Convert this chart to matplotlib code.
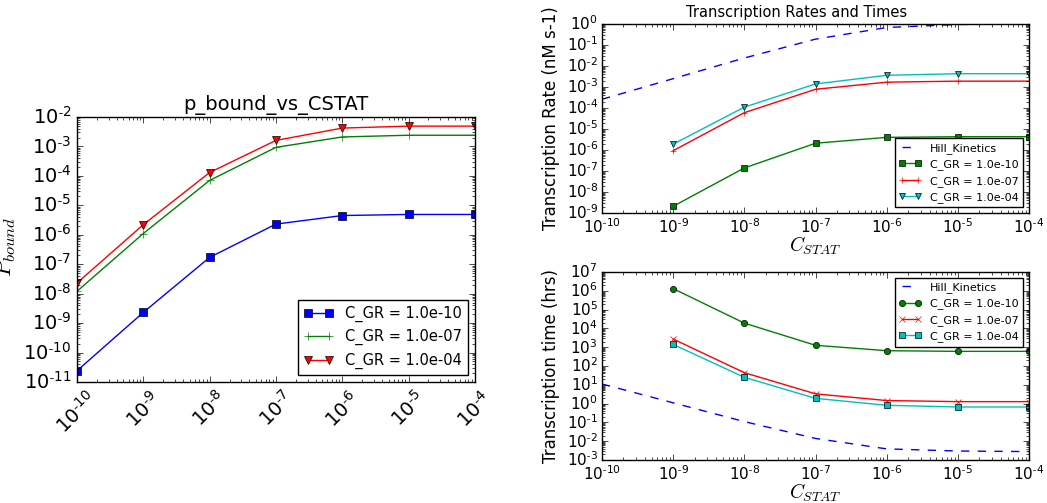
import numpy as np
import matplotlib
matplotlib.use("Agg")
import matplotlib.pyplot as plt
from matplotlib.ticker import FuncFormatter

plt.style.use('classic')
plt.rcParams['figure.facecolor'] = 'white'
plt.rcParams['savefig.facecolor'] = 'white'
plt.rcParams['axes.unicode_minus'] = False

# concentrations of STAT
c_stat = [1e-10, 1e-9, 1e-8, 1e-7, 1e-6, 1e-5, 1e-4]
c_stat_gr = [1e-9, 1e-8, 1e-7, 1e-6, 1e-5, 1e-4]
gr_labels = ['C_GR = 1.0e-10', 'C_GR = 1.0e-07', 'C_GR = 1.0e-04']

# p_bound for each C_GR
p_bound_gr10 = [2.4e-11, 2.3e-9, 1.7e-7, 2.3e-6, 4.5e-6, 4.9e-6, 4.9e-6]
p_bound_gr07 = [1.2e-8, 1.1e-6, 7.0e-5, 9.3e-4, 2.1e-3, 2.4e-3, 2.4e-3]
p_bound_gr04 = [2.3e-8, 2.2e-6, 1.3e-4, 1.6e-3, 4.2e-3, 4.9e-3, 4.9e-3]

# Hill kinetics reference
hill_rate = [2.6e-4, 2.5e-3, 2.4e-2, 0.19, 0.68, 0.95, 0.995]
hill_time = [11.0, 1.1, 0.11, 0.014, 0.0039, 0.003, 0.0028]

# transcription rates (nM s-1)
rate_gr10 = [2.1e-9, 1.4e-7, 2.1e-6, 4.0e-6, 4.3e-6, 4.3e-6]
rate_gr07 = [9.3e-7, 6.0e-5, 7.8e-4, 1.7e-3, 1.9e-3, 1.9e-3]
rate_gr04 = [1.9e-6, 1.1e-4, 1.4e-3, 3.6e-3, 4.3e-3, 4.3e-3]

# transcription times (hrs)
time_gr10 = [1.3e6, 1.9e4, 1.26e3, 650, 600, 600]
time_gr07 = [2.7e3, 44, 3.3, 1.45, 1.27, 1.27]
time_gr04 = [1.4e3, 25, 1.9, 0.81, 0.66, 0.66]


def pow10(v, pos):
    # подписи вида 10^-5 с обычным дефисом
    e = int(round(np.log10(v)))
    if e < 0:
        return r'$\mathdefault{10^{\text{-}%d}}$' % (-e)
    return r'$\mathdefault{10^{%d}}$' % e


fig = plt.figure(figsize=(10.47, 5.03), dpi=100)

# --- левый график ---
ax1 = fig.add_axes([0.0735, 0.2406, 0.380, 0.5268])
ax1.loglog(c_stat, p_bound_gr10, 'bs-', markersize=5.5, label=gr_labels[0])
ax1.loglog(c_stat, p_bound_gr07, 'g+-', markersize=6, label=gr_labels[1])
ax1.loglog(c_stat, p_bound_gr04, 'rv-', markersize=6, label=gr_labels[2])
ax1.set_xlim(1e-10, 1e-4)
ax1.set_ylim(1e-11, 1e-2)
ax1.set_title('p_bound_vs_CSTAT', fontsize=14)
ax1.set_ylabel(r'$P_{bound}$', fontsize=17)
ax1.yaxis.set_label_coords(-0.148, 0.51)
ax1.tick_params(labelsize=14)
ax1.legend(loc='lower right', fontsize=10.5, numpoints=2)

# --- скорости транскрипции ---
ax2 = fig.add_axes([0.575, 0.5765, 0.4078, 0.3758])
ax2.loglog(c_stat, hill_rate, 'b--', label='Hill_Kinetics')
ax2.loglog(c_stat_gr, rate_gr10, 'gs-', markersize=4.5, label=gr_labels[0])
ax2.loglog(c_stat_gr, rate_gr07, 'r+-', markersize=5, label=gr_labels[1])
ax2.loglog(c_stat_gr, rate_gr04, 'cv-', markersize=5, label=gr_labels[2])
ax2.set_xlim(1e-10, 1e-4)
ax2.set_ylim(1e-9, 1e0)
ax2.set_ylabel('Transcription Rate (nM s-1)', fontsize=12)
ax2.set_xlabel(r'$C_{STAT}$', fontsize=14, labelpad=-1)
ax2.tick_params(labelsize=11, pad=3)
ax2.legend(loc='lower right', fontsize=8, numpoints=2)

# --- время транскрипции ---
ax3 = fig.add_axes([0.575, 0.0855, 0.4078, 0.3738])
ax3.loglog(c_stat, hill_time, 'b--', label='Hill_Kinetics')
ax3.loglog(c_stat_gr, time_gr10, 'go-', markersize=4.5, label=gr_labels[0])
ax3.loglog(c_stat_gr, time_gr07, 'rx-', markersize=5, label=gr_labels[1])
ax3.loglog(c_stat_gr, time_gr04, 'cs-', markersize=4.5, label=gr_labels[2])
ax3.set_xlim(1e-10, 1e-4)
ax3.set_ylim(1e-3, 1e7)
ax3.set_ylabel('Transcription time (hrs)', fontsize=12)
ax3.set_xlabel(r'$C_{STAT}$', fontsize=14, labelpad=-1)
ax3.tick_params(labelsize=11, pad=3)
ax3.legend(loc='upper right', fontsize=8, numpoints=2)

for ax in (ax1, ax2, ax3):
    ax.xaxis.set_major_formatter(FuncFormatter(pow10))
    ax.yaxis.set_major_formatter(FuncFormatter(pow10))
for lab in ax1.get_xticklabels():
    lab.set_rotation(45)

fig.text(0.761, 0.976, 'Transcription Rates and Times', ha='center', va='center', fontsize=10.5)

fig.savefig('out.png', dpi=100)
